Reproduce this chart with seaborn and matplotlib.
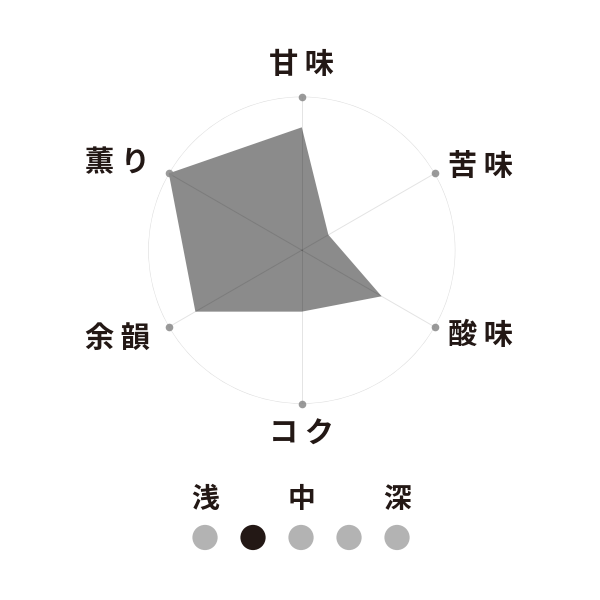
import matplotlib
matplotlib.use('Agg')
import matplotlib.pyplot as plt
import seaborn as sns
import numpy as np
import pandas as pd

# radar data (scale 0-5)
axes_labels = ['甘 味', '苦 味', '酸 味', 'コ ク', '余 韻', '薫 り']
values = [4, 1, 3, 2, 4, 5]
max_value = 5

# roast level scale
level_positions = [1, 2, 3, 4, 5]
level_labels = {1: '浅', 3: '中', 5: '深'}
selected_level = 2

sns.set_theme(style='white')
plt.rcParams['font.family'] = ['Noto Sans CJK JP', 'DejaVu Sans']

fig = plt.figure(figsize=(6, 6), dpi=100)

# radar chart
ax = fig.add_axes([0.247, 0.327, 0.512, 0.512], projection='polar')
ax.set_theta_zero_location('N')
ax.set_theta_direction(-1)
angles = np.deg2rad(np.arange(len(axes_labels)) * 360 / len(axes_labels))

ax.fill(np.append(angles, angles[0]), values + values[:1], color='#8b8b8b', lw=0, zorder=2)
for a in angles:
    ax.plot([a, a], [0, max_value], color='black', alpha=0.11, lw=0.7, zorder=3)
theta_full = np.linspace(0, 2 * np.pi, 361)
ax.plot(theta_full, np.full_like(theta_full, max_value), color='#dedede', lw=0.8, zorder=1)
sns.scatterplot(x=angles, y=[max_value] * len(angles), ax=ax, color='#888888',
                s=30, linewidth=0, alpha=0.85, zorder=4, clip_on=False, legend=False)

for a, lab in zip(angles, axes_labels):
    deg = np.rad2deg(a)
    if deg in (0, 180):
        r, ha = max_value * (1.21 if deg == 0 else 1.195), 'center'
    elif deg < 180:
        r, ha = max_value * 1.10, 'left'
    else:
        r, ha = max_value * 1.14, 'right'
    ax.text(a, r, lab, ha=ha, va='center', fontsize=21,
            fontweight='bold', color='#231815')

ax.set_ylim(0, max_value)
ax.set_xticks([])
ax.set_yticks([])
ax.grid(False)
ax.spines['polar'].set_visible(False)
ax.set_facecolor('none')

# roast level dots
ax2 = fig.add_axes([0.2617, 0.0667, 0.48, 0.15])
df = pd.DataFrame({'level': level_positions, 'y': [0.25] * len(level_positions)})
df['sel'] = ['on' if p == selected_level else 'off' for p in level_positions]
sns.scatterplot(data=df, x='level', y='y', hue='sel', palette={'on': '#231815', 'off': '#b3b3b3'},
                s=330, linewidth=0, ax=ax2, legend=False)
for p, lab in level_labels.items():
    ax2.text(p, 0.667, lab, ha='center', va='center', fontsize=20, fontweight='bold', color='#231815')
ax2.set_xlim(0, 6)
ax2.set_ylim(0, 1)
ax2.axis('off')

fig.savefig('out.png', dpi=100, facecolor='white')
